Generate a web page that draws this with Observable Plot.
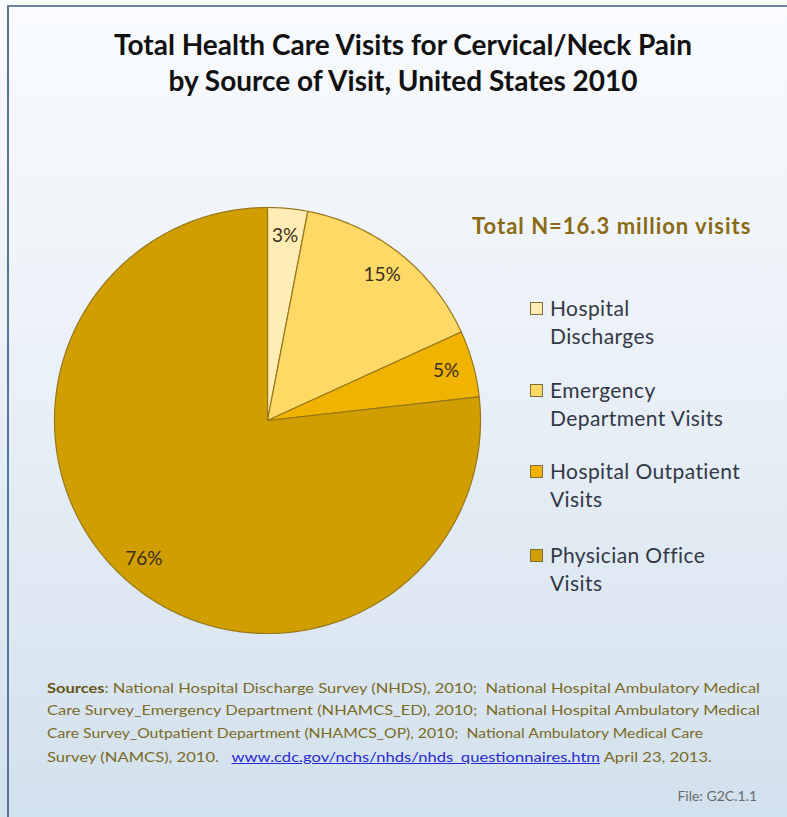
<!DOCTYPE html>
<html>
<head>
<meta charset="utf-8">
<script src="https://cdn.jsdelivr.net/npm/d3@7"></script>
<script src="https://cdn.jsdelivr.net/npm/@observablehq/plot@0.6"></script>
<style>
  html, body { margin: 0; padding: 0; }
  body { width: 787px; height: 817px; overflow: hidden; font-family: Lato, "Open Sans", sans-serif; }
  #frame {
    position: relative; width: 787px; height: 817px;
    background: linear-gradient(180deg, #F9FBFD 0%, #EEF3F9 35%, #DDE8F2 75%, #D2E1EE 100%);
    box-sizing: border-box;
  }
  #border { position: absolute; left: 7px; top: 5px; right: 0; bottom: 0; border-left: 2px solid #5B7492; border-top: 2px solid #6E86A2; pointer-events: none; }
  #chart { position: absolute; left: 0; top: 0; }
  .abs { position: absolute; white-space: nowrap; }
  .title { left: 0; width: 806px; text-align: center; font-weight: 700; font-size: 28px; line-height: 36px; color: #111; }
  .total { font-weight: 700; font-size: 22px; letter-spacing: 1px; color: #8A6A12; }
  .leg { font-size: 21px; letter-spacing: 0.4px; line-height: 28px; color: #323846; }
  .sw { position: absolute; width: 11px; height: 11px; border: 1px solid #7E6E3A; }
  .src { font-size: 13px; color: #7A6A24; transform-origin: 0 0; }
  .src b { color: #665414; }
  .src a { color: #2A2AD0; text-decoration: underline; }
  .file { font-size: 14px; color: #6A6A6A; }
</style>
</head>
<body>
<div id="frame">
  <div id="chart"></div>
  <div id="border"></div>
</div>
<script>
// ---- data ----
const categories = ["Hospital Discharges", "Emergency Department Visits", "Hospital Outpatient Visits", "Physician Office Visits"];
const legendLines = [["Hospital", "Discharges"], ["Emergency", "Department Visits"], ["Hospital Outpatient", "Visits"], ["Physician Office", "Visits"]];
const shares = [3, 15, 5, 76];
const shareLabels = ["3%", "15%", "5%", "76%"];
const colors = ["#FFEDB5", "#FFD966", "#EFB300", "#D19E00"];
const titleLines = ["Total Health Care Visits for Cervical/Neck Pain", "by Source of Visit, United States 2010"];
const totalText = "Total N=16.3 million visits";
const sourceLines = [
  ["<b>Sources</b>: National Hospital Discharge Survey (NHDS), 2010;&nbsp; National Hospital Ambulatory Medical", 713],
  ["Care Survey_Emergency Department (NHAMCS_ED), 2010;&nbsp; National Hospital Ambulatory Medical", 713],
  ["Care Survey_Outpatient Department (NHAMCS_OP), 2010;&nbsp; National Ambulatory Medical Care", 656],
  ["Survey (NAMCS), 2010.&nbsp;&nbsp; <a>www.cdc.gov/nchs/nhds/nhds_questionnaires.htm</a> April 23, 2013.", 665]
];
const fileText = "File: G2C.1.1";

// ---- pie geometry from data ----
const arcs = d3.pie().sort(null).value(d => d)(shares);
const polys = [];
arcs.forEach((a, i) => {
  polys.push({cat: categories[i], x: 0, y: 0});
  const n = Math.max(2, Math.ceil((a.endAngle - a.startAngle) / 0.01));
  for (let k = 0; k <= n; k++) {
    const t = a.startAngle + (a.endAngle - a.startAngle) * k / n;
    polys.push({cat: categories[i], x: Math.sin(t), y: Math.cos(t)});
  }
  polys.push({cat: categories[i], x: 0, y: 0});
});
const labelR = 0.87;
const labelData = arcs.map((a, i) => {
  const m = (a.startAngle + a.endAngle) / 2;
  return {label: shareLabels[i], x: labelR * Math.sin(m), y: labelR * Math.cos(m)};
});

const plot = Plot.plot({
  width: 787, height: 817,
  margin: 0,
  style: {background: "transparent", fontFamily: "Lato, sans-serif"},
  x: {domain: [-1, 1], range: [54, 480], axis: null},
  y: {domain: [-1, 1], range: [633, 207], axis: null},
  color: {domain: categories, range: colors},
  marks: [
    Plot.line(polys, {x: "x", y: "y", z: "cat", fill: "cat", stroke: "#97771A", strokeWidth: 1.2, curve: "linear"}),
    Plot.text(labelData, {x: "x", y: "y", text: "label", fontSize: 19, letterSpacing: 1, fill: "#3A2E1C"})
  ]
});
document.getElementById("chart").appendChild(plot);

// ---- html text ----
const frame = document.getElementById("frame");
function add(cls, html, left, top) {
  const d = document.createElement("div");
  d.className = "abs " + cls;
  d.innerHTML = html;
  if (left != null) d.style.left = left + "px";
  d.style.top = top + "px";
  frame.appendChild(d);
  return d;
}
titleLines.forEach((t, i) => add("title", t, null, 26 + i * 36));
add("total", totalText, 472, 212);
legendLines.forEach((lines, i) => {
  const base = [315, 397, 478, 562][i];
  lines.forEach((t, j) => add("leg", t, 550, base - 21 + j * 28));
  const s = document.createElement("div");
  s.className = "sw";
  s.style.left = "530px";
  s.style.top = (base - 13) + "px";
  s.style.background = colors[i];
  frame.appendChild(s);
});
const srcTops = [680, 702, 725, 749];
sourceLines.forEach(([t, w], i) => {
  const d = add("src", t, 47, srcTops[i]);
  const actual = d.getBoundingClientRect().width;
  d.style.transform = `scaleX(${w / actual})`;
});
const f = add("file", fileText, null, 787);
f.style.right = "30px";
</script>
</body>
</html>
